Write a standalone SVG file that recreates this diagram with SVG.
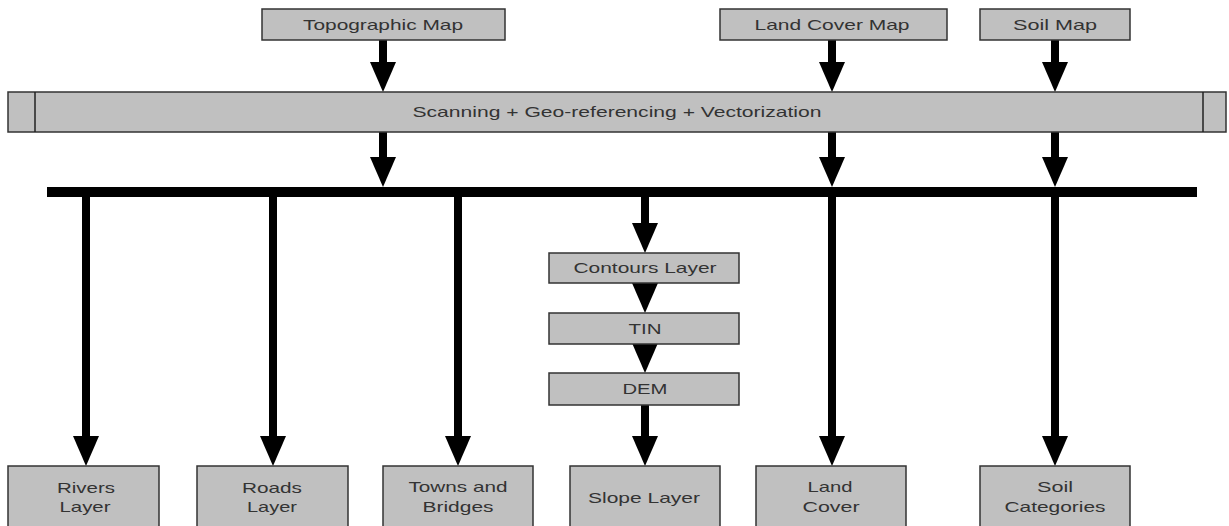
<svg xmlns="http://www.w3.org/2000/svg" width="1229" height="526" viewBox="0 0 1229 526">
<style>
.box{fill:#c0c0c0;stroke:#333;stroke-width:1.5}
.t{font-family:"Liberation Sans",Arial,sans-serif;font-size:15px;fill:#333;text-anchor:middle}
.c{stroke:#000;stroke-width:8;fill:none}
</style>
<defs>
<marker id="ah" markerUnits="userSpaceOnUse" viewBox="0 0 30 26" refX="15" refY="13" markerWidth="30" markerHeight="26" orient="auto">
<path d="M0,0 L30,13 L0,26 z" fill="#000"/>
</marker>
</defs>
<rect width="1229" height="526" fill="#fff"/>
<g id="connectors">
<line class="c" x1="383" y1="40" x2="383" y2="77" marker-end="url(#ah)"/>
<line class="c" x1="832" y1="40" x2="832" y2="77" marker-end="url(#ah)"/>
<line class="c" x1="1055" y1="40" x2="1055" y2="77" marker-end="url(#ah)"/>
<line class="c" x1="383" y1="132" x2="383" y2="172" marker-end="url(#ah)"/>
<line class="c" x1="832" y1="132" x2="832" y2="172" marker-end="url(#ah)"/>
<line class="c" x1="1055" y1="132" x2="1055" y2="172" marker-end="url(#ah)"/>
<rect id="bus" x="47" y="187" width="1150" height="10" fill="#000"/>
<line class="c" x1="86" y1="197" x2="86" y2="451" marker-end="url(#ah)"/>
<line class="c" x1="273" y1="197" x2="273" y2="451" marker-end="url(#ah)"/>
<line class="c" x1="458" y1="197" x2="458" y2="451" marker-end="url(#ah)"/>
<line class="c" x1="832" y1="197" x2="832" y2="451" marker-end="url(#ah)"/>
<line class="c" x1="1055" y1="197" x2="1055" y2="451" marker-end="url(#ah)"/>
<line class="c" x1="645" y1="197" x2="645" y2="238" marker-end="url(#ah)"/>
<line class="c" x1="645" y1="283" x2="645" y2="298" marker-end="url(#ah)"/>
<line class="c" x1="645" y1="344" x2="645" y2="358" marker-end="url(#ah)"/>
<line class="c" x1="645" y1="405" x2="645" y2="451" marker-end="url(#ah)"/>
</g>
<g id="topo"><rect class="box" x="262" y="9" width="243" height="31"/><text class="t" x="383" y="30" textLength="160" lengthAdjust="spacingAndGlyphs">Topographic Map</text></g>
<g id="landcovermap"><rect class="box" x="720" y="9" width="227" height="31"/><text class="t" x="832" y="30" textLength="155" lengthAdjust="spacingAndGlyphs">Land Cover Map</text></g>
<g id="soilmap"><rect class="box" x="980" y="9" width="150" height="31"/><text class="t" x="1055" y="30" textLength="84" lengthAdjust="spacingAndGlyphs">Soil Map</text></g>
<g id="scanning"><rect class="box" x="8" y="92" width="1218" height="40"/><line x1="35" y1="92" x2="35" y2="132" stroke="#222" stroke-width="1.5"/><line x1="1203" y1="92" x2="1203" y2="132" stroke="#222" stroke-width="1.5"/><text class="t" x="617" y="117" textLength="409" lengthAdjust="spacingAndGlyphs">Scanning + Geo-referencing + Vectorization</text></g>
<g id="contours"><rect class="box" x="549" y="253" width="190" height="30"/><text class="t" x="645" y="273" textLength="143" lengthAdjust="spacingAndGlyphs">Contours Layer</text></g>
<g id="tin"><rect class="box" x="549" y="313" width="190" height="31"/><text class="t" x="645" y="334" textLength="33" lengthAdjust="spacingAndGlyphs">TIN</text></g>
<g id="dem"><rect class="box" x="549" y="373" width="190" height="32"/><text class="t" x="645" y="394" textLength="45" lengthAdjust="spacingAndGlyphs">DEM</text></g>
<g id="rivers"><rect class="box" x="8" y="466" width="151" height="64"/><text class="t" x="86" y="493" textLength="58" lengthAdjust="spacingAndGlyphs">Rivers</text><text class="t" x="85" y="512" textLength="51" lengthAdjust="spacingAndGlyphs">Layer</text></g>
<g id="roads"><rect class="box" x="197" y="466" width="151" height="64"/><text class="t" x="272" y="493" textLength="60" lengthAdjust="spacingAndGlyphs">Roads</text><text class="t" x="272" y="512" textLength="50" lengthAdjust="spacingAndGlyphs">Layer</text></g>
<g id="towns"><rect class="box" x="383" y="466" width="150" height="64"/><text class="t" x="458" y="492" textLength="99" lengthAdjust="spacingAndGlyphs">Towns and</text><text class="t" x="458" y="512" textLength="71" lengthAdjust="spacingAndGlyphs">Bridges</text></g>
<g id="slope"><rect class="box" x="570" y="466" width="150" height="64"/><text class="t" x="644" y="503" textLength="112" lengthAdjust="spacingAndGlyphs">Slope Layer</text></g>
<g id="landcover"><rect class="box" x="756" y="466" width="150" height="64"/><text class="t" x="830" y="492" textLength="45" lengthAdjust="spacingAndGlyphs">Land</text><text class="t" x="831" y="512" textLength="57" lengthAdjust="spacingAndGlyphs">Cover</text></g>
<g id="soilcat"><rect class="box" x="980" y="466" width="150" height="64"/><text class="t" x="1055" y="492" textLength="36" lengthAdjust="spacingAndGlyphs">Soil</text><text class="t" x="1055" y="512" textLength="101" lengthAdjust="spacingAndGlyphs">Categories</text></g>
</svg>
